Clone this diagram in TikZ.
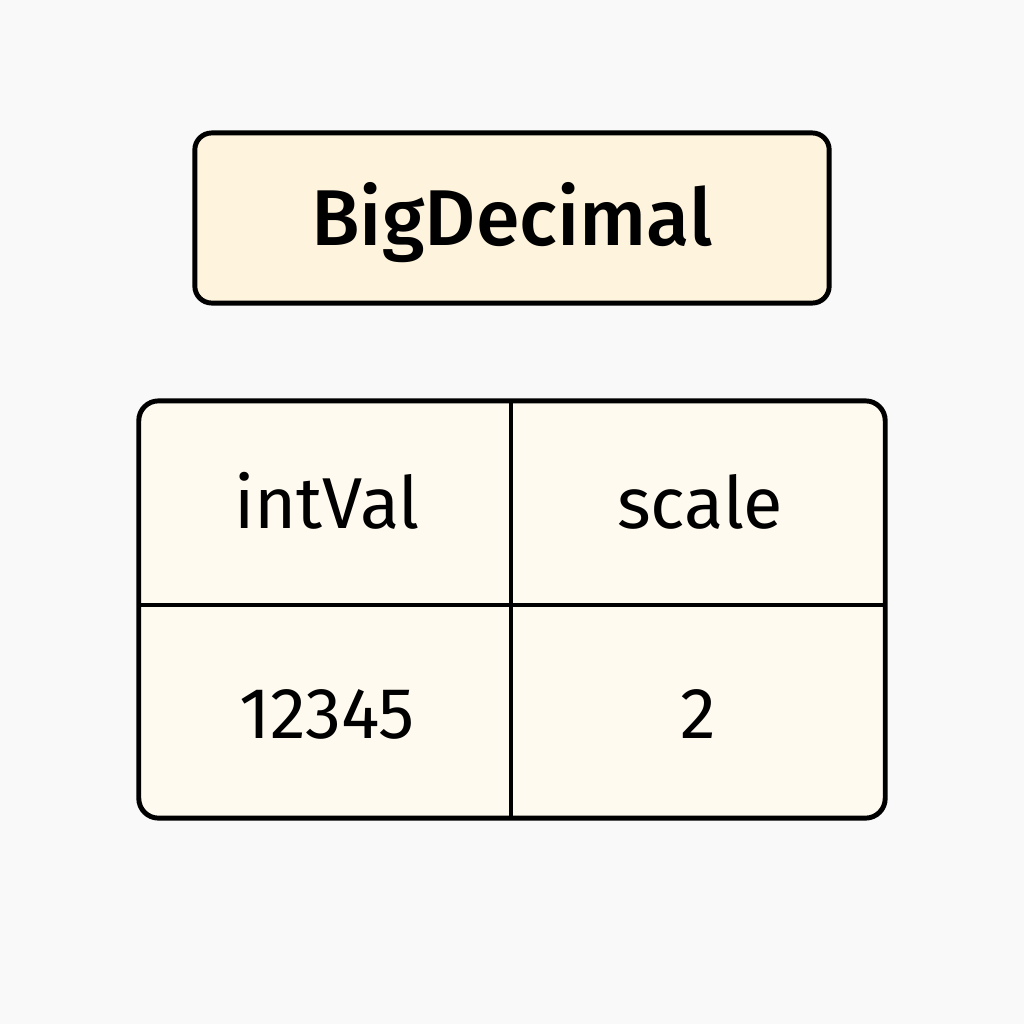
\documentclass[tikz,border=0pt]{standalone}
\usepackage{fontspec}
\setmainfont{Fira Sans}
\newfontfamily\titlefont{Fira Sans Medium}
\definecolor{bgc}{HTML}{F9F9F9}
\definecolor{titlefill}{HTML}{FEF3DC}
\definecolor{tablefill}{HTML}{FEFAEF}
\begin{document}
\begin{tikzpicture}[x=0.01cm,y=-0.01cm,
  titlebox/.style={draw=black, fill=titlefill, line width=1.4pt, rounded corners=4.8pt, inner sep=0pt, minimum width=6.34cm, minimum height=1.70cm},
  tablebox/.style={draw=black, fill=tablefill, line width=1.4pt, rounded corners=5.6pt, inner sep=0pt, minimum width=7.46cm, minimum height=4.17cm},
  grid/.style={line width=1.4pt, draw=black},
  celltext/.style={font=\fontsize{20.5}{24}\selectfont, anchor=base, inner sep=0pt}]
\fill[bgc] (0,0) rectangle (1024,1024);
\useasboundingbox (0,0) rectangle (1024,1024);
\node[titlebox] (title) at (512,218) {};
\node[anchor=base, inner sep=0pt, font=\fontsize{22.5}{26}\titlefont] (titletext) at (512,245) {BigDecimal};
\node[tablebox] (table) at (512,609.5) {};
\coordinate (vtop) at (511,401);
\coordinate (vbot) at (511,818);
\coordinate (hleft) at (139,605);
\coordinate (hright) at (885,605);
\draw[grid] (vtop) -- (vbot);
\draw[grid] (hleft) -- (hright);
\node[celltext] (c1) at (327,528) {intVal};
\node[celltext] (c2) at (700,528) {scale};
\node[celltext] (c3) at (327,738) {12345};
\node[celltext] (c4) at (698,738) {2};
\end{tikzpicture}
\end{document}
